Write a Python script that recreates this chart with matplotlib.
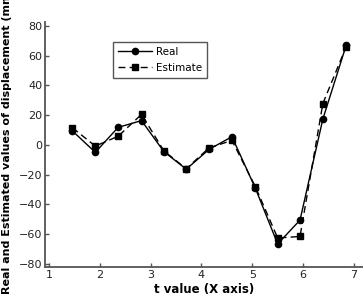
import matplotlib
matplotlib.use("Agg")
import matplotlib.pyplot as plt

# values
t_values = [1.46, 1.91, 2.36, 2.82, 3.26, 3.70, 4.15, 4.60, 5.06, 5.50, 5.94, 6.39, 6.85]
real = [9.4, -5.0, 11.8, 16.3, -4.5, -16.3, -3.0, 5.5, -29.0, -66.5, -50.5, 17.4, 67.0]
estimate = [11.5, -0.8, 5.8, 20.5, -4.0, -16.0, -2.0, 3.0, -28.0, -62.5, -61.5, 27.8, 66.0]

x_ticks = [1, 2, 3, 4, 5, 6, 7]
y_ticks = [-80, -60, -40, -20, 0, 20, 40, 60, 80]

fig = plt.figure(figsize=(3.63, 2.98), dpi=100)
ax = fig.add_axes([0.124, 0.104, 0.876, 0.822])

ax.plot(t_values, real, color="black", linestyle="-", linewidth=1.0,
        marker="o", markersize=4.5, label="Real")
ax.plot(t_values, estimate, color="black", linestyle=(0, (5, 3)), linewidth=1.0,
        marker="s", markersize=4.5, label="Estimate")

ax.set_xlim(0.92, 7.18)
ax.set_ylim(-82, 82.5)
ax.set_xticks(x_ticks)
ax.set_yticks(y_ticks)

for side in ("top", "right"):
    ax.spines[side].set_visible(False)
for side in ("left", "bottom"):
    ax.spines[side].set_color("#555555")
    ax.spines[side].set_linewidth(1.3)

ax.tick_params(direction="in", length=3, width=1, color="#555555",
               labelsize=8, labelcolor="#222222", pad=2)

ax.set_xlabel("t value (X axis)", fontsize=8.5, fontweight="bold", labelpad=2)
# long label: starts just above the bottom edge and runs off the top, as in the source
ax.set_ylabel("Real and Estimated values of displacement (mm)",
              fontsize=8.0, fontweight="bold", loc="bottom")
ax.yaxis.set_label_coords(-0.105, -0.112)

leg = ax.legend(loc="upper left", bbox_to_anchor=(0.214, 0.918), fontsize=7.5,
                fancybox=False, edgecolor="#555555", framealpha=1,
                handlelength=3.3, handletextpad=0.4, borderpad=0.45,
                labelspacing=0.6, borderaxespad=0)
leg.get_frame().set_linewidth(1.0)

fig.savefig("out.png", dpi=100)
